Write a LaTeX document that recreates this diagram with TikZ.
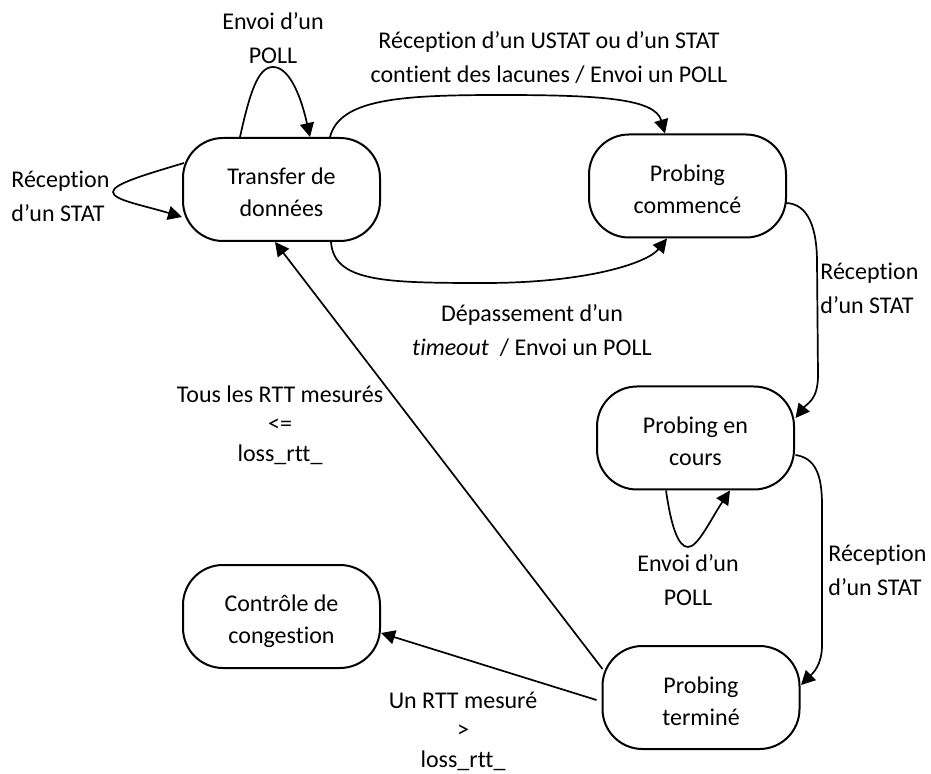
\documentclass[tikz,border=0pt]{standalone}
\usepackage{fontspec}
\setmainfont{Carlito}[Ligatures={NoCommon,NoDiscretionary,NoRare}]
\usetikzlibrary{arrows.meta,calc}
% two-line state caption, with struts that set the caption slightly below centre
\newcommand\statetext[2]{\rule{0pt}{13.5pt}#1\\#2\rule[-2pt]{0pt}{2pt}}
\begin{document}
\begin{tikzpicture}[x=0.5pt,y=-0.5pt,
  state/.style={draw, line width=1pt, rounded corners=20pt,
    minimum width=98.5pt, minimum height=51.5pt, align=center, inner sep=0pt,
    font=\fontsize{12}{16}\selectfont},
  lbl/.style={align=center, inner sep=0pt, font=\fontsize{12}{17}\selectfont},
  lbltight/.style={align=center, inner sep=0pt, font=\fontsize{12}{14.75}\selectfont},
  arr/.style={-{Triangle[length=7pt,width=7pt]}, line width=0.85pt}]
\useasboundingbox (0,0) rectangle (931,774);

% states
\node[state] (td) at (281.5,189.5) {\statetext{Transfer de}{données}};
\node[state] (pc) at (687.5,186)   {\statetext{Probing}{commencé}};
\node[state] (pe) at (695.5,438)   {\statetext{Probing en}{cours}};
\node[state] (pt) at (701,697.5)   {\statetext{Probing}{terminé}};
\node[state] (cc) at (281.5,616.5) {\statetext{Contrôle de}{congestion}};

% bend points of the curved transitions
\coordinate (tdtop)  at (273,67);
\coordinate (tdleft) at (113,192);
\coordinate (arcup)  at (500,95);
\coordinate (arcdn)  at (485,283);
\coordinate (r1a)    at (817,262);
\coordinate (r1b)    at (818,375);
\coordinate (r2a)    at (822,505);
\coordinate (r2b)    at (822,645);
\coordinate (pebot)  at (688,547);

% self loops on "Transfer de données"
\draw[arr] ($(td.north)+(-41.5,0)$) .. controls +(10,-45) and +(-15,0) .. (tdtop)
  .. controls +(15,0) and +(-10,-45) .. ($(td.north)+(28.5,0)$);
\draw[arr] ($(td.west)+(2,-26.5)$) .. controls +(-40,12) and +(0,-8) .. (tdleft)
  .. controls +(0,8) and +(-40,-12) .. ($(td.west)+(0,27.5)$);

% Transfer -> Probing commencé (two transitions)
\draw[arr] ($(td.north)+(48.5,0)$) .. controls +(10,-38) and +(-100,0) .. (arcup)
  .. controls +(100,0) and +(-10,-35) .. ($(pc.north)+(-22.5,0)$);
\draw[arr] ($(td.south)+(49.5,0)$) .. controls +(3,40) and +(-100,0) .. (arcdn)
  .. controls +(100,0) and +(-20,25) .. ($(pc.south)+(-20.5,0)$);

% Probing commencé -> en cours -> terminé
\draw[arr] ($(pc.east)+(-2,17)$) .. controls +(25,0) and +(0,-30) .. (r1a) -- (r1b)
  .. controls +(0,25) and +(12,-15) .. ($(pe.east)+(0.5,-20)$);
\draw[arr] ($(pe.east)+(0.5,17)$) .. controls +(20,3) and +(0,-30) .. (r2a) -- (r2b)
  .. controls +(0,20) and +(12,-12) .. ($(pt.east)+(0.5,-12.5)$);

% self loop on "Probing en cours"
\draw[arr] ($(pe.south)+(-29.5,0)$) .. controls +(5,35) and +(-10,0) .. (pebot)
  .. controls +(10,0) and +(-20,30) .. ($(pe.south)+(34.5,0)$);

% Probing terminé -> Transfer / Contrôle
\draw[arr] ($(pt.west)+(1,-28.5)$) -- ($(td.south)+(-6.5,0)$);
\draw[arr] ($(pt.west)+(-5,2.5)$) -- ($(cc.east)+(0,16.5)$);

% transition labels
\node[lbl] (l1) at (273,38) {Envoi d’un\\POLL};
\node[lbl, anchor=west, align=left] (l2) at (11,196) {Réception\\d’un STAT};
\node[lbl] (l3) at (549,58) {Réception d’un USTAT ou d’un STAT\\contient des lacunes / Envoi un POLL};
\node[lbl] (l4) at (532,330.5) {Dépassement d’un\\\textit{timeout}~ / Envoi un POLL};
\node[lbl, anchor=west, align=left] (l5) at (820,288) {Réception\\d’un STAT};
\node[lbl, anchor=west, align=left] (l6) at (828,570) {Réception\\d’un STAT};
\node[lbl] (l7) at (688,580) {Envoi d’un\\POLL};
\node[lbltight] (l8) at (280,425) {Tous les RTT mesurés\\<=\\loss\_rtt\_};
\node[lbltight] (l9) at (463,731) {Un RTT mesuré\\>\\loss\_rtt\_};
\end{tikzpicture}
\end{document}
